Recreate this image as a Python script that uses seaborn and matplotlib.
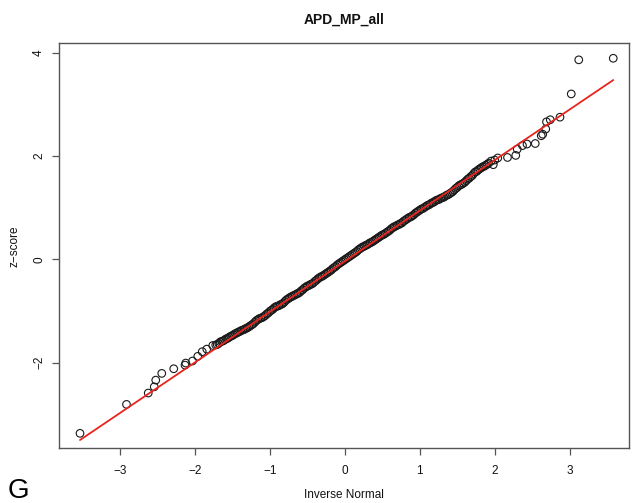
import numpy as np
import pandas as pd
import matplotlib
matplotlib.use("Agg")
import matplotlib.pyplot as plt
import seaborn as sns

# ---- data ----
title = "APD_MP_all"
x_label = "Inverse Normal"
y_label = "z\u2212score"
panel_label = "G"

lower_x = [-3.53, -2.91, -2.62, -2.54, -2.52, -2.44, -2.28, -2.13, -2.12, -2.03, -1.96, -1.90, -1.84, -1.76]
lower_y = [-3.37, -2.81, -2.59, -2.47, -2.34, -2.21, -2.12, -2.05, -2.01, -1.97, -1.88, -1.79, -1.74, -1.67]

mid_x = [-1.72, -1.70, -1.68, -1.66, -1.64, -1.62, -1.60, -1.58, -1.56, -1.54, -1.52, -1.50,
         -1.48, -1.46, -1.44, -1.42, -1.40, -1.38, -1.36, -1.34, -1.32, -1.30,
         -1.28, -1.26, -1.24, -1.22, -1.20, -1.18, -1.16, -1.14, -1.12, -1.10, -1.08, -1.06, -1.04, -1.02, -1.00,
         -0.98, -0.96, -0.94, -0.92, -0.90, -0.88, -0.86, -0.84, -0.82, -0.80, -0.78, -0.76, -0.74, -0.72,
         -0.70, -0.68, -0.66, -0.64, -0.62, -0.60, -0.58, -0.56, -0.54, -0.52, -0.50,
         -0.48, -0.46, -0.44, -0.42, -0.40, -0.38, -0.36, -0.34, -0.32, -0.30, -0.28, -0.26, -0.24, -0.22,
         -0.20, -0.18, -0.16, -0.14, -0.12, -0.10, -0.08, -0.06, -0.04, -0.02, 0.00,
         0.02, 0.04, 0.06, 0.08, 0.10, 0.12, 0.14, 0.16, 0.18, 0.20, 0.22, 0.24, 0.26, 0.28,
         0.30, 0.32, 0.34, 0.36, 0.38, 0.40, 0.42, 0.44, 0.46, 0.48, 0.50,
         0.52, 0.54, 0.56, 0.58, 0.60, 0.62, 0.64, 0.66, 0.68, 0.70, 0.72, 0.74, 0.76, 0.78,
         0.80, 0.82, 0.84, 0.86, 0.88, 0.90, 0.92, 0.94, 0.96, 0.98, 1.00,
         1.02, 1.04, 1.06, 1.08, 1.10, 1.12, 1.14, 1.16, 1.18, 1.20, 1.22, 1.24, 1.26, 1.28, 1.30,
         1.32, 1.34, 1.36, 1.38, 1.40, 1.42, 1.44, 1.46, 1.48, 1.50, 1.52, 1.54, 1.56, 1.58, 1.60,
         1.62, 1.64, 1.66, 1.68, 1.70,
         1.72, 1.74, 1.76, 1.78, 1.80, 1.82, 1.84, 1.86, 1.88, 1.90, 1.92, 1.95]
mid_y = [-1.66, -1.65, -1.63, -1.60, -1.59, -1.58, -1.56, -1.54, -1.53, -1.51, -1.49, -1.48,
         -1.46, -1.44, -1.43, -1.41, -1.40, -1.38, -1.37, -1.36, -1.34, -1.33,
         -1.31, -1.29, -1.27, -1.25, -1.22, -1.19, -1.17, -1.15, -1.14, -1.13, -1.11, -1.09, -1.06, -1.04, -1.01,
         -0.99, -0.97, -0.94, -0.92, -0.91, -0.90, -0.88, -0.87, -0.85, -0.82, -0.79, -0.77, -0.75, -0.73,
         -0.72, -0.70, -0.69, -0.67, -0.66, -0.64, -0.61, -0.59, -0.56, -0.54, -0.52,
         -0.51, -0.49, -0.48, -0.46, -0.43, -0.41, -0.38, -0.36, -0.34, -0.33, -0.31, -0.29, -0.27, -0.25,
         -0.23, -0.21, -0.18, -0.16, -0.14, -0.11, -0.09, -0.07, -0.05, -0.03, -0.01,
         0.01, 0.03, 0.05, 0.07, 0.09, 0.11, 0.13, 0.15, 0.18, 0.20, 0.22, 0.24, 0.25, 0.27,
         0.28, 0.30, 0.32, 0.33, 0.35, 0.37, 0.39, 0.41, 0.43, 0.45, 0.47,
         0.48, 0.50, 0.52, 0.54, 0.56, 0.59, 0.61, 0.63, 0.64, 0.66, 0.67, 0.69, 0.70, 0.73,
         0.75, 0.77, 0.79, 0.81, 0.82, 0.84, 0.86, 0.89, 0.91, 0.93, 0.95,
         0.97, 0.98, 1.00, 1.02, 1.04, 1.05, 1.07, 1.09, 1.10, 1.12, 1.14, 1.15, 1.16, 1.18, 1.19,
         1.20, 1.22, 1.24, 1.25, 1.27, 1.29, 1.31, 1.34, 1.37, 1.39, 1.42, 1.44, 1.45, 1.47, 1.49,
         1.52, 1.55, 1.57, 1.60, 1.62,
         1.66, 1.69, 1.70, 1.73, 1.75, 1.77, 1.79, 1.80, 1.82, 1.84, 1.86, 1.90]

upper_x = [1.98, 2.00, 2.04, 2.17, 2.28, 2.30, 2.37, 2.43, 2.54, 2.62, 2.64, 2.68, 2.69, 2.74, 2.87, 3.02, 3.12, 3.58]
upper_y = [1.83, 1.92, 1.96, 1.97, 2.01, 2.13, 2.20, 2.23, 2.24, 2.39, 2.42, 2.52, 2.66, 2.70, 2.75, 3.20, 3.86, 3.89]

line_intercept = -0.04
line_slope = 0.98

x_ticks = [-3, -2, -1, 0, 1, 2, 3]
y_ticks = [-2, 0, 2, 4]

# ---- build frame ----
df = pd.DataFrame({
    "x": lower_x + mid_x + upper_x,
    "y": lower_y + mid_y + upper_y,
})
lx = np.array([df["x"].min(), df["x"].max()])
line_df = pd.DataFrame({"x": lx, "y": line_intercept + line_slope * lx})

sns.set_theme(style="ticks")
plt.rcParams["font.family"] = ["Liberation Sans", "DejaVu Sans"]

fig = plt.figure(figsize=(6.32, 5.03), dpi=100)
ax = fig.add_axes([59 / 632, (503 - 448.3) / 503, (629 - 59) / 632, (448.3 - 43.3) / 503])

sns.scatterplot(data=df, x="x", y="y", ax=ax, marker="o", s=30,
                facecolors="none", edgecolor="#1a1a1a", linewidth=0.8, zorder=2)
sns.lineplot(data=line_df, x="x", y="y", ax=ax, color="#e8241c", linewidth=1.3, zorder=3)

ax.set_xlim(-3.81, 3.79)
ax.set_ylim(-3.66, 4.18)
ax.set_xticks(x_ticks)
ax.set_yticks(y_ticks)
ax.set_xticklabels([f"{t}".replace("-", "\u2212") for t in x_ticks])
ax.set_yticklabels([f"{t}".replace("-", "\u2212") for t in y_ticks],
                   rotation=90, va="center")

for s in ax.spines.values():
    s.set_color("#555555")
    s.set_linewidth(1.0)
    s.set_visible(True)
ax.tick_params(axis="both", direction="out", length=5, width=0.9, color="#555555",
               labelsize=8.5, labelcolor="#111111")
ax.tick_params(axis="x", pad=7)
ax.tick_params(axis="y", pad=5)

ax.set_xlabel(x_label, fontsize=8.5, labelpad=9, color="#111111")
ax.set_ylabel(y_label, fontsize=8.5, labelpad=9, color="#111111")
ax.set_title(title, fontsize=10, fontweight="bold", pad=14, color="#111111")

fig.text(8 / 632, 1 - 498 / 503, panel_label, fontsize=20, color="black",
         ha="left", va="baseline")

fig.savefig("out.png", dpi=100)
